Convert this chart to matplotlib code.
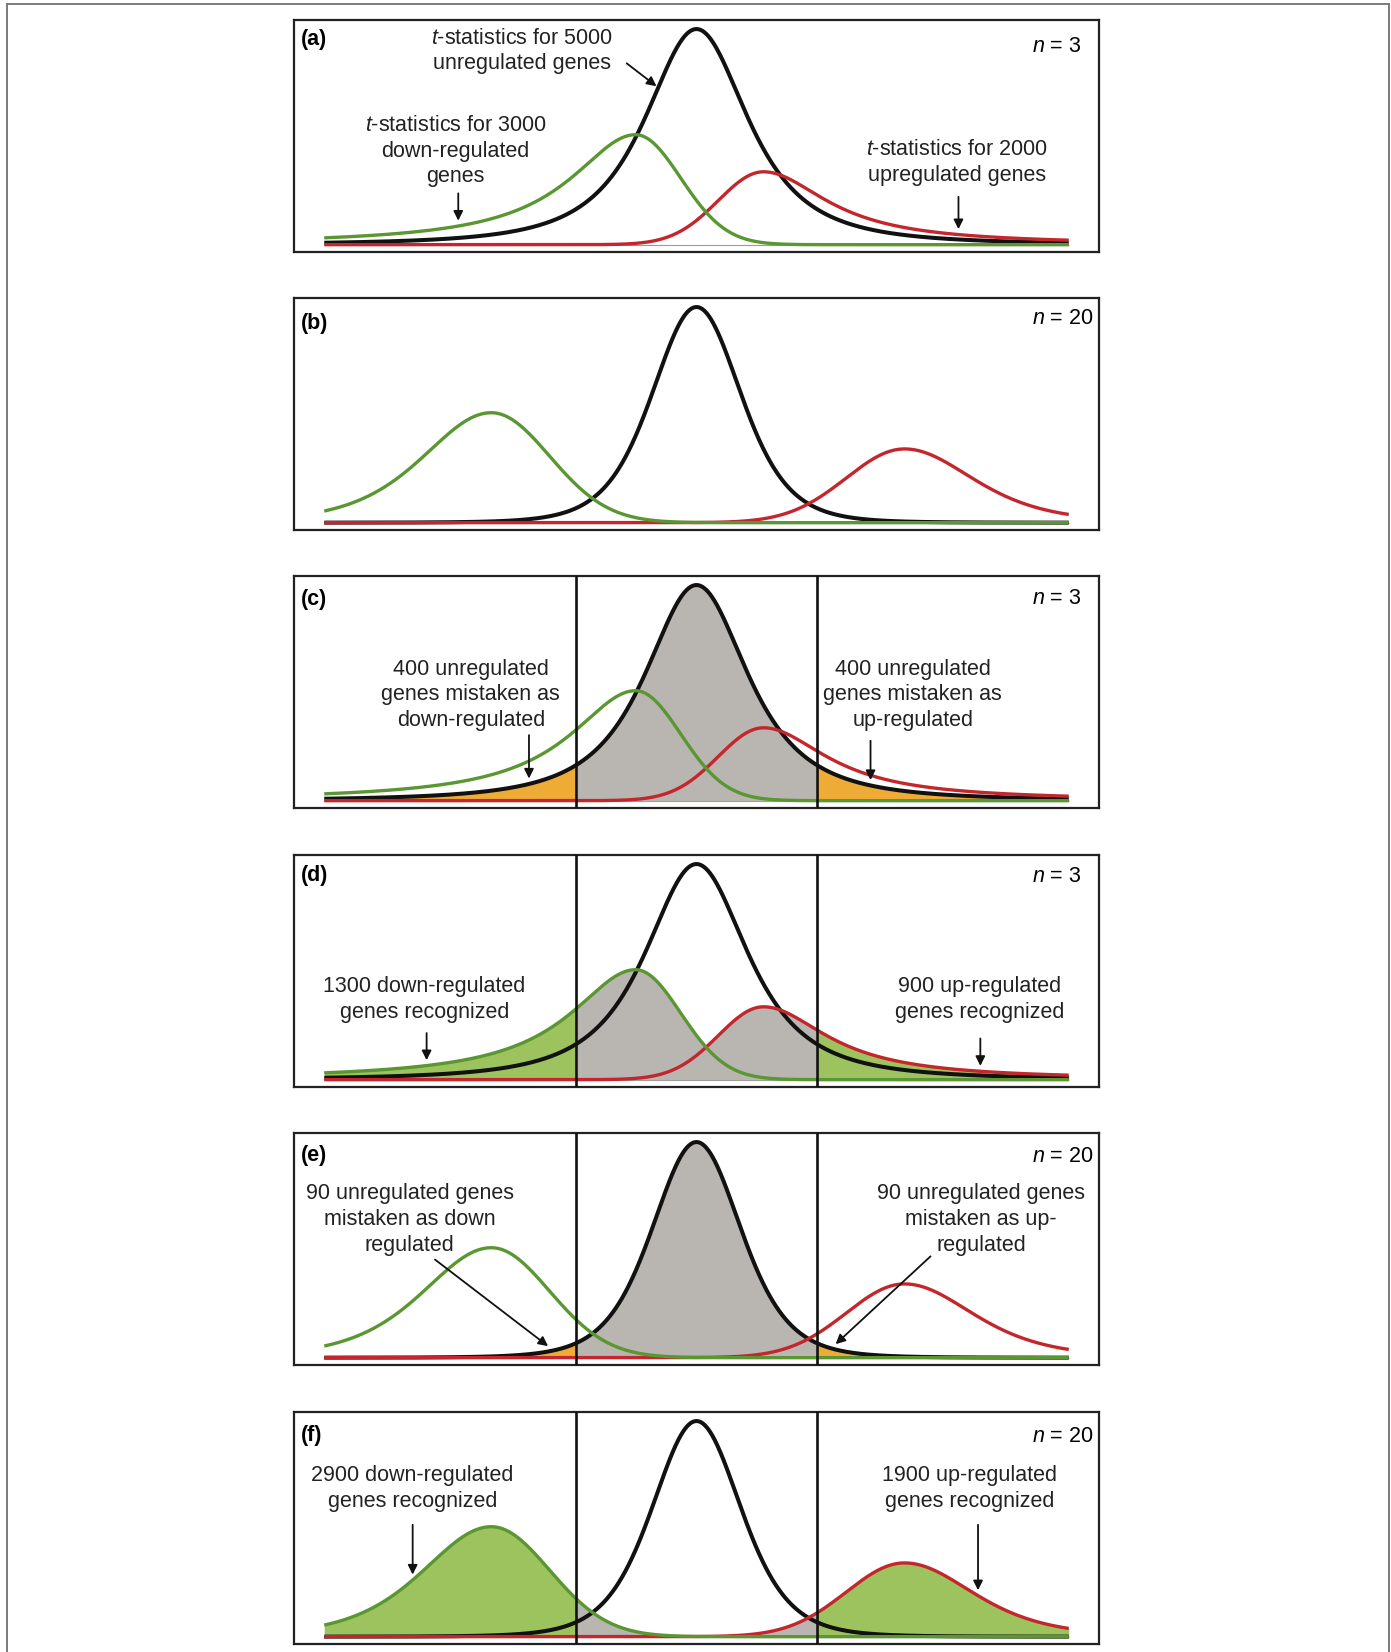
import numpy as np
import matplotlib
matplotlib.use("Agg")
import matplotlib.pyplot as plt
from matplotlib.patches import Rectangle

plt.rcParams['font.family'] = ['Liberation Sans', 'DejaVu Sans']
plt.rcParams['mathtext.fontset'] = 'custom'
plt.rcParams['mathtext.it'] = 'Liberation Sans:italic'
plt.rcParams['mathtext.rm'] = 'Liberation Sans'

# panel labels, sample sizes, shading mode
panel_labels = ['(a)', '(b)', '(c)', '(d)', '(e)', '(f)']
sample_sizes = [3, 20, 3, 3, 20, 20]
shading = [None, None, 'false', 'true', 'false', 'true']

# curve shapes (t-units):
# mode, height, left scale, left df, right scale, right df
INF = 1e6
black_n3 = [0.0, 1.0, 1.2, 2, 1.2, 2]
green_n3 = [-1.31, 0.51, 1.72, 1, 0.97, INF]
red_n3 = [1.44, 0.338, 0.97, INF, 1.68, 1]
black_n20 = [0.0, 1.0, 0.98, 6, 0.98, 6]
green_n20 = [-4.41, 0.51, 1.52, 5, 1.25, INF]
red_n20 = [4.47, 0.342, 1.25, INF, 1.52, 5]
t_range = [-8.0, 8.0]
cutoffs = [-2.58, 2.58]

# annotations: panel index, text, text position, arrow tail, arrow tip x, tip on curve
annotations = [
    (0, '$t$-statistics for 5000\nunregulated genes', (-3.76, 0.898), (-1.50, 0.841), -0.86, 'black'),
    (0, '$t$-statistics for 3000\ndown-regulated\ngenes', (-5.18, 0.434), (-5.12, 0.238), -5.12, 'green'),
    (0, '$t$-statistics for 2000\nupregulated genes', (5.60, 0.381), (5.63, 0.222), 5.63, 'red'),
    (2, '400 unregulated\ngenes mistaken as\ndown-regulated', (-4.85, 0.491), (-3.60, 0.304), -3.60, 'black'),
    (2, '400 unregulated\ngenes mistaken as\nup-regulated', (4.65, 0.491), (3.74, 0.278), 3.74, 'black'),
    (3, '1300 down-regulated\ngenes recognized', (-5.85, 0.371), (-5.80, 0.216), -5.80, 'green'),
    (3, '900 up-regulated\ngenes recognized', (6.08, 0.371), (6.10, 0.191), 6.10, 'red'),
    (4, '90 unregulated genes\nmistaken as down\nregulated', (-6.16, 0.641), (-5.62, 0.455), -3.19, 'black'),
    (4, '90 unregulated genes\nmistaken as up-\nregulated', (6.12, 0.641), (5.03, 0.470), 2.99, 'black'),
    (5, '2900 down-regulated\ngenes recognized', (-6.10, 0.688), (-6.10, 0.519), -6.10, 'green'),
    (5, '1900 up-regulated\ngenes recognized', (5.87, 0.688), (6.05, 0.519), 6.05, 'red'),
]

BLACK = '#111111'
GREEN = '#5a9632'
RED = '#c3262c'
GRAY_FILL = '#b9b6b1'
ORANGE_FILL = '#eeab35'
GREEN_FILL = '#9dc35e'


def split_t(x, p):
    mode, h, sl, nul, sr, nur = p
    left = x < mode
    z = np.where(left, (x - mode) / sl, (x - mode) / sr)
    nu = np.where(left, nul, nur)
    return h * (1 + z ** 2 / nu) ** (-(nu + 1) / 2)


W, H = 1391, 1652
fig = plt.figure(figsize=(W / 100, H / 100), dpi=100)
fig.patches.append(Rectangle((7 / W, -0.01), 1382 / W, 1 - 4 / H + 0.01,
                             transform=fig.transFigure, fill=False,
                             edgecolor='#7a7a7a', lw=1.4))

panel_tops = [20, 298, 576, 855, 1133, 1412]
label_off = [20, 26, 24, 20, 22, 23]   # px below the frame top
n_off = [26, 21, 22, 21, 23, 24]
ax_h = 232
x = np.linspace(t_range[0], t_range[1], 1200)
axes = []
FS = 15.5

for i, lab in enumerate(panel_labels):
    ax = fig.add_axes([294 / W, 1 - (panel_tops[i] + ax_h) / H, 805 / W, ax_h / H])
    axes.append(ax)
    n = sample_sizes[i]
    if n == 3:
        pb, pg, pr = black_n3, green_n3, red_n3
    else:
        pb, pg, pr = black_n20, green_n20, red_n20
    yb, yg, yr = split_t(x, pb), split_t(x, pg), split_t(x, pr)

    lo, hi = cutoffs
    mid = (x >= lo) & (x <= hi)
    if shading[i] == 'false':
        ax.fill_between(x, 0, yb, where=mid, color=GRAY_FILL, lw=0, zorder=2)
        ax.fill_between(x, 0, yb, where=x <= lo, color=ORANGE_FILL, lw=0, zorder=2)
        ax.fill_between(x, 0, yb, where=x >= hi, color=ORANGE_FILL, lw=0, zorder=2)
    elif shading[i] == 'true':
        ax.fill_between(x, 0, np.maximum(yg, yr), where=mid, color=GRAY_FILL, lw=0, zorder=2)
        ax.fill_between(x, 0, yg, where=x <= lo, color=GREEN_FILL, lw=0, zorder=2)
        ax.fill_between(x, 0, yr, where=x >= hi, color=GREEN_FILL, lw=0, zorder=2)

    ax.hlines(0, t_range[0], t_range[1], color='#9a9a9a', lw=0.8, zorder=1)
    ax.plot(x, yb, color=BLACK, lw=2.9, zorder=3, solid_capstyle='butt')
    ax.plot(x, yr, color=RED, lw=2.4, zorder=4, solid_capstyle='butt')
    ax.plot(x, yg, color=GREEN, lw=2.4, zorder=5, solid_capstyle='butt')

    if shading[i] is not None:
        for c in cutoffs:
            ax.axvline(c, color=BLACK, lw=1.9, zorder=6)

    ax.set_xlim(-8.65, 8.65)
    ax.set_ylim(-0.034, 1.042)
    ax.set_xticks([])
    ax.set_yticks([])
    for s in ax.spines.values():
        s.set_color('#222222')
        s.set_linewidth(1.6)

    ax.text(0.008, 1 - label_off[i] / ax_h, lab, transform=ax.transAxes, fontsize=FS,
            fontweight='bold', ha='left', va='center')
    ax.text(0.917, 1 - n_off[i] / ax_h, '$n$ = %d' % n, transform=ax.transAxes,
            fontsize=FS, ha='left', va='center')

curves = {3: (black_n3, green_n3, red_n3), 20: (black_n20, green_n20, red_n20)}
for (i, txt, tpos, tail, tipx, which) in annotations:
    ax = axes[i]
    pb, pg, pr = curves[sample_sizes[i]]
    p = {'black': pb, 'green': pg, 'red': pr}[which]
    tipy = float(split_t(np.array([tipx]), p)[0]) + 0.025
    ax.text(tpos[0], tpos[1], txt, fontsize=FS, ha='center', va='center',
            linespacing=1.3, color='#222222', zorder=8)
    ax.annotate('', xy=(tipx, tipy), xytext=tail,
                arrowprops=dict(arrowstyle='-|>', color=BLACK, lw=1.3,
                                mutation_scale=14, shrinkA=0, shrinkB=0),
                zorder=8)

fig.savefig('out.png', dpi=100)
